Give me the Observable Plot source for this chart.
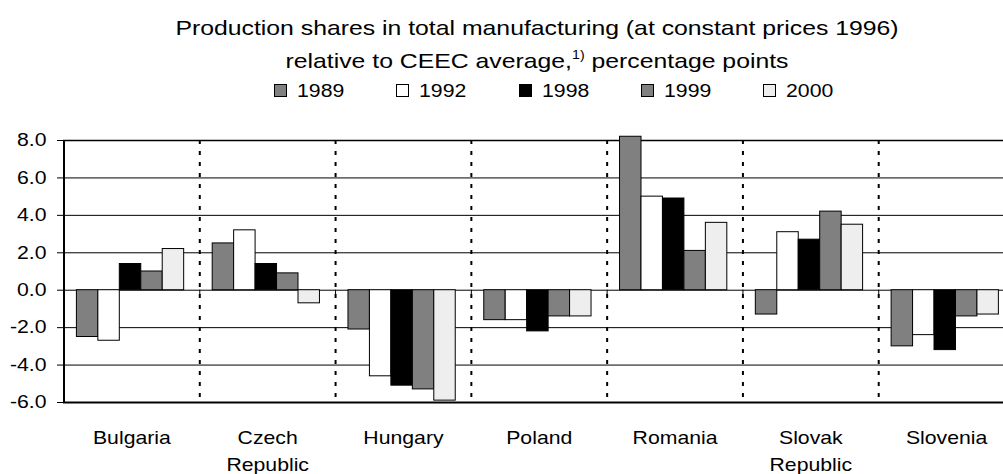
<!DOCTYPE html>
<html><head><meta charset="utf-8">
<script src="https://cdn.jsdelivr.net/npm/d3@7"></script>
<script src="https://cdn.jsdelivr.net/npm/@observablehq/plot@0.6"></script>
<style>
html,body{margin:0;padding:0;background:#fff;}
body{font-family:"Liberation Sans",Arial,sans-serif;color:#000;width:1003px;height:474px;overflow:hidden;position:relative;}
.t{position:absolute;left:537px;white-space:nowrap;font-size:21px;line-height:21px;transform:translateX(-50%) scaleX(1.18);transform-origin:center;}
.t sup{font-size:12px;line-height:0;vertical-align:9px;}
.sw{position:absolute;top:84px;width:13px;height:13px;box-sizing:border-box;border:1px solid #000;}
.lt{position:absolute;top:82px;font-size:18px;line-height:18px;white-space:nowrap;transform:scaleX(1.18);transform-origin:left center;}
#chart{position:absolute;left:0;top:110px;}
</style></head>
<body>
<div class="t" style="top:17px">Production shares in total manufacturing (at constant prices 1996)</div>
<div class="t" style="top:50px">relative to CEEC average,<sup>1)</sup> percentage points</div>
<div id="legend"></div>
<div id="chart"></div>
<script>
// ---- data ----
const countries = ["Bulgaria", "Czech Republic", "Hungary", "Poland", "Romania", "Slovak Republic", "Slovenia"];
const countryLabels = ["Bulgaria", "Czech\nRepublic", "Hungary", "Poland", "Romania", "Slovak\nRepublic", "Slovenia"];
const years = ["1989", "1992", "1998", "1999", "2000"];
const v1989 = [-2.5, 2.5, -2.1, -1.6, 8.2, -1.3, -3.0];
const v1992 = [-2.7, 3.2, -4.6, -1.6, 5.0, 3.1, -2.4];
const v1998 = [1.4, 1.4, -5.1, -2.2, 4.9, 2.7, -3.2];
const v1999 = [1.0, 0.9, -5.3, -1.4, 2.1, 4.2, -1.4];
const v2000 = [2.2, -0.7, -5.9, -1.4, 3.6, 3.5, -1.3];
const yTicks = [-6, -4, -2, 0, 2, 4, 6, 8];
const yearFills = ["#808080", "#ffffff", "#000000", "#808080", "#eeeeee"];

const series = [v1989, v1992, v1998, v1999, v2000];
const rows = countries.flatMap((c, i) => years.map((y, j) => ({country: c, i, j, year: y, value: series[j][i]})));
const barPad = 0.095, barW = 0.158;
const separators = countries.slice(1).map((c, i) => i + 0.5);

// legend
const leg = document.getElementById("legend");
years.forEach((y, j) => {
  const x = 274 + j * 122.3;
  const sw = document.createElement("div");
  sw.className = "sw"; sw.style.left = x + "px"; sw.style.background = yearFills[j];
  const t = document.createElement("div");
  t.className = "lt"; t.style.left = (x + 23) + "px"; t.textContent = y;
  leg.appendChild(sw); leg.appendChild(t);
});

const chart = Plot.plot({
  width: 1003,
  height: 364,
  marginTop: 30,
  marginBottom: 72,
  marginLeft: 63,
  marginRight: 0,
  style: {fontFamily: "'Liberation Sans', Arial, sans-serif", fontSize: "18px", color: "#000", background: "transparent", overflow: "hidden"},
  x: {type: "linear", domain: [-0.5, countries.length - 0.5], range: [63.5, 1014], axis: null},
  y: {domain: [-6, 8], axis: null},
  color: {domain: years, range: yearFills},
  marks: [
    Plot.gridY(yTicks, {stroke: "#000", strokeOpacity: 1, strokeWidth: 1}),
    Plot.ruleY([8], {stroke: "#000", strokeWidth: 1.5}),
    Plot.ruleX(separators, {y1: 8, y2: -6, stroke: "#000", strokeWidth: 2, strokeDasharray: "4,7"}),
    Plot.ruleX(separators, {y1: 0, y2: -0.27, stroke: "#000", strokeWidth: 1}),
    Plot.rectY(rows, {
      x1: d => d.i - 0.5 + barPad + d.j * barW,
      x2: d => d.i - 0.5 + barPad + (d.j + 1) * barW,
      y1: 0, y2: "value",
      fill: "year", stroke: "#000", strokeWidth: 1
    }),
    Plot.ruleY([-6], {stroke: "#000", strokeWidth: 2}),
    Plot.ruleX([-0.5], {y1: -6, y2: 8, stroke: "#000", strokeWidth: 2}),
    Plot.axisY(yTicks, {anchor: "left", label: null, tickFormat: d => d.toFixed(1), tickSize: 6, tickPadding: 11, fontSize: 18}),
    Plot.text(countryLabels, {x: (d, i) => i, frameAnchor: "bottom", lineAnchor: "top", dy: 22, fontSize: 18, lineHeight: 1.5, fill: "#000"})
  ]
});
chart.querySelectorAll("text").forEach(el => {
  const tr = el.getAttribute("transform") || "";
  el.setAttribute("transform", tr + " scale(1.18,1)");
});
document.getElementById("chart").appendChild(chart);
</script>
</body></html>
